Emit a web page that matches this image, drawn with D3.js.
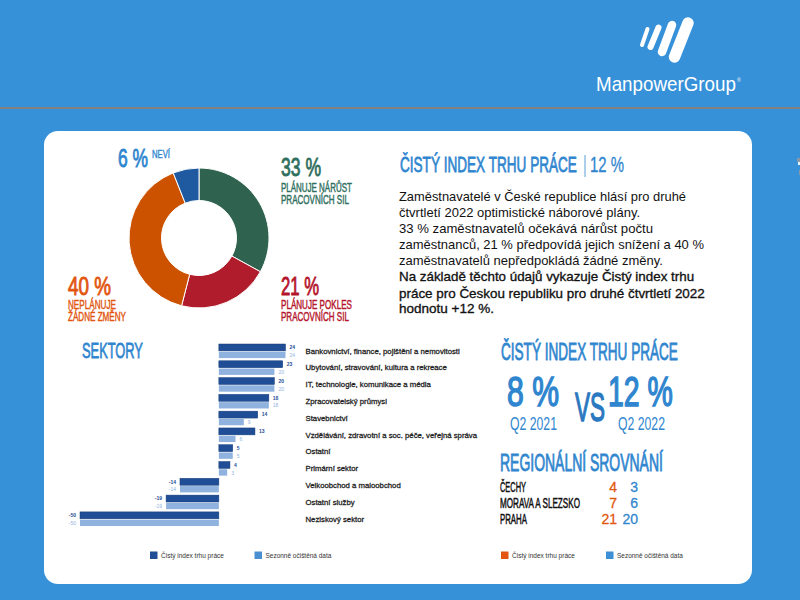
<!DOCTYPE html>
<html>
<head>
<meta charset="utf-8">
<script src="https://cdn.jsdelivr.net/npm/d3@7"></script>
<style>
  html, body { margin: 0; padding: 0; background: #3691d9; }
  svg { display: block; }
</style>
</head>
<body>
<svg id="chart" width="800" height="600"></svg>
<script>
// donut
const shareNames = ['Nárůst', 'Pokles', 'Žádné změny', 'Neví'];
const shareValues = [33, 21, 40, 6];

// sectors
const sectorNames = [
  'Bankovnictví, finance, pojištění a nemovitosti',
  'Ubytování, stravování, kultura a rekreace',
  'IT, technologie, komunikace a média',
  'Zpracovatelský průmysl',
  'Stavebnictví',
  'Vzdělávání, zdravotní a soc. péče, veřejná správa',
  'Ostatní',
  'Primární sektor',
  'Velkoobchod a maloobchod',
  'Ostatní služby',
  'Neziskový sektor'
];
const netIndex = [24, 23, 20, 18, 14, 13, 5, 4, -14, -19, -50];
const seasonal = [24, 20, 20, 18, 9, 6, 5, 3, -14, -19, -50];

// regions
const regionNames = ['ČECHY', 'MORAVA A SLEZSKO', 'PRAHA'];
const regionNet = [4, 7, 21];
const regionSeasonal = [3, 6, 20];

const paragraph = [
  'Zaměstnavatelé v České republice hlásí pro druhé',
  'čtvrtletí 2022 optimistické náborové plány.',
  '33 % zaměstnavatelů očekává nárůst počtu',
  'zaměstnanců, 21 % předpovídá jejich snížení a 40 %',
  'zaměstnavatelů nepředpokládá žádné změny.',
  'Na základě těchto údajů vykazuje Čistý index trhu',
  'práce pro Českou republiku pro druhé čtvrtletí 2022',
  'hodnotu +12 %.'
];

const BLUE = '#2f86cf';
const ORANGE = '#e2560f';
const GREEN = '#2f6f5e';
const RED = '#b5152b';
const NARROW = '"Liberation Sans Narrow", "Liberation Sans", sans-serif';
const SANS = '"Liberation Sans", Arial, sans-serif';

const svg = d3.select('#chart');

// squeeze with a transform so the box of the text really is that wide
function addText(x, y, str, size, fill, width, family = NARROW, weight = 400, bold = 0.035) {
  const t = svg.append('text')
    .attr('font-family', family)
    .attr('font-size', size)
    .attr('font-weight', weight)
    .attr('fill', fill)
    .text(str);
  if (bold) t.attr('stroke', fill).attr('stroke-width', size * bold);
  const sx = width ? width / t.node().getComputedTextLength() : 1;
  t.attr('transform', `translate(${x},${y}) scale(${sx},1)`);
  return t;
}

function drawBackground() {
  svg.append('rect').attr('width', 800).attr('height', 600).attr('fill', '#3691d9');
  svg.append('rect').attr('x', 0).attr('y', 107).attr('width', 800).attr('height', 2).attr('fill', '#85807c');
  svg.append('rect')
    .attr('x', 44).attr('y', 131)
    .attr('width', 708).attr('height', 453)
    .attr('rx', 14)
    .attr('fill', '#fff');
  // stray specks at the right edge of the source image
  svg.append('rect').attr('x', 797).attr('y', 158).attr('width', 3).attr('height', 4).attr('fill', '#8a97a6');
  svg.append('rect').attr('x', 798).attr('y', 162).attr('width', 2).attr('height', 3).attr('fill', '#e8f4fb');
  svg.append('rect').attr('x', 799).attr('y', 170).attr('width', 1).attr('height', 5).attr('fill', '#8a97a6');
}

function drawLogo() {
  const strokes = [
    [642, 45, 647.5, 29, 4],
    [650.5, 47, 658.5, 27.5, 6],
    [662, 52, 672, 25, 8.5],
    [674.5, 57, 688, 23, 11.5]
  ];
  strokes.forEach(s => {
    svg.append('line')
      .attr('x1', s[0]).attr('y1', s[1])
      .attr('x2', s[2]).attr('y2', s[3])
      .attr('stroke', '#fff')
      .attr('stroke-width', s[4])
      .attr('stroke-linecap', 'round');
  });
  addText(596, 91, 'ManpowerGroup', 20.5, '#fff', 140, SANS, 400, 0);
  addText(737, 82, '®', 5, '#fff', null, SANS, 400, 0);
}

function drawDonut() {
  const pie = d3.pie().sort(null)(shareValues);
  const arc = d3.arc().innerRadius(37.5).outerRadius(70);
  const color = d3.scaleOrdinal()
    .domain(shareNames)
    .range(['#2f6350', '#b01c2b', '#cc5200', '#1f5aa0']);

  svg.append('g')
    .attr('transform', 'translate(199,238)')
    .selectAll('path')
    .data(pie)
    .join('path')
    .attr('d', arc)
    .attr('fill', (d, i) => color(shareNames[i]))
    .attr('stroke', '#fff')
    .attr('stroke-width', 1);

  addText(118, 167, shareValues[3] + ' %', 26, BLUE, 30);
  addText(152, 158, 'NEVÍ', 11.5, BLUE, 18);

  addText(281, 176, shareValues[0] + ' %', 26, GREEN, 40);
  addText(281, 192, 'PLÁNUJE NÁRŮST', 13, GREEN, 71);
  addText(281, 204, 'PRACOVNÍCH SIL', 13, GREEN, 68);

  addText(281, 295, shareValues[1] + ' %', 26, RED, 38);
  addText(281, 309, 'PLÁNUJE POKLES', 13, RED, 71);
  addText(281, 321, 'PRACOVNÍCH SIL', 13, RED, 68);

  addText(68, 295, shareValues[2] + ' %', 26, ORANGE, 43);
  addText(68, 309, 'NEPLÁNUJE', 13, ORANGE, 48);
  addText(68, 321, 'ŽÁDNÉ ZMĚNY', 13, ORANGE, 58);
}

function drawIntro() {
  addText(400, 172, 'ČISTÝ INDEX TRHU PRÁCE', 22, BLUE, 177);
  svg.append('line')
    .attr('x1', 585).attr('x2', 585)
    .attr('y1', 155).attr('y2', 177)
    .attr('stroke', BLUE).attr('stroke-width', 0.8);
  addText(590, 172, '12 %', 22, BLUE, 34, NARROW, 400, 0.015);

  const lineY = [201, 217, 233, 249, 265, 281, 298, 313];
  const lineW = [287, 241, 254, 305, 264, 295, 306, 95];
  paragraph.forEach((line, i) => {
    addText(399, lineY[i], line, 13.2, '#111', lineW[i], SANS, 400, i >= 5 ? 0.025 : 0);
  });
}

function drawSectors() {
  addText(82, 358, 'SEKTORY', 22, BLUE, 61);

  const x = d3.scaleLinear().domain([-50, 24]).range([80, 285.5]);
  const y = d3.scaleBand().domain(sectorNames).range([344, 526]).paddingInner(0.16);
  const labelY = d3.scalePoint().domain(sectorNames).range([353.5, 521.7]);
  const darkH = y.bandwidth() * 0.49;
  const lightH = y.bandwidth() * 0.45;
  const lightOff = y.bandwidth() * 0.55;

  const rows = svg.append('g')
    .selectAll('g')
    .data(sectorNames)
    .join('g');

  rows.append('rect')
    .attr('x', (d, i) => x(Math.min(0, netIndex[i])))
    .attr('y', d => y(d))
    .attr('width', (d, i) => Math.abs(x(netIndex[i]) - x(0)))
    .attr('height', darkH)
    .attr('fill', '#1f4e96')
    .attr('stroke', '#173d7a')
    .attr('stroke-width', 0.5);

  rows.append('rect')
    .attr('x', (d, i) => x(Math.min(0, seasonal[i])))
    .attr('y', d => y(d) + lightOff)
    .attr('width', (d, i) => Math.abs(x(seasonal[i]) - x(0)))
    .attr('height', lightH)
    .attr('fill', '#8fb3de');

  rows.append('text')
    .attr('x', (d, i) => x(netIndex[i]) + (netIndex[i] < 0 ? -4 : 4))
    .attr('y', d => y(d) + darkH / 2 + 1.8)
    .attr('text-anchor', (d, i) => netIndex[i] < 0 ? 'end' : 'start')
    .attr('font-family', SANS).attr('font-size', 5).attr('font-weight', 700)
    .attr('fill', '#1f4e96')
    .text((d, i) => netIndex[i]);

  rows.append('text')
    .attr('x', (d, i) => x(seasonal[i]) + (seasonal[i] < 0 ? -4 : 4))
    .attr('y', d => y(d) + lightOff + lightH / 2 + 2.2)
    .attr('text-anchor', (d, i) => seasonal[i] < 0 ? 'end' : 'start')
    .attr('font-family', SANS).attr('font-size', 5)
    .attr('fill', '#8fb3de')
    .text((d, i) => seasonal[i]);

  rows.append('text')
    .attr('x', 305.5)
    .attr('y', d => labelY(d))
    .attr('font-family', SANS).attr('font-size', 7.75)
    .attr('fill', '#222')
    .attr('stroke', '#222').attr('stroke-width', 0.28)
    .text(d => d);
}

function drawLegend(x1, w1, color1, x2, w2, color2) {
  const items = [['Čistý index trhu práce', x1, w1, color1], ['Sezonně očištěná data', x2, w2, color2]];
  items.forEach(it => {
    svg.append('rect')
      .attr('x', it[1]).attr('y', 551.5)
      .attr('width', 7.5).attr('height', 7.5)
      .attr('fill', it[3]);
    addText(it[1] + 11, 557.8, it[0], 7, '#333', it[2], SANS, 400, 0);
  });
}

function drawCompare() {
  addText(501, 360, 'ČISTÝ INDEX TRHU PRÁCE', 23, BLUE, 177);
  addText(507, 406, '8 %', 43, BLUE, 52);
  addText(608, 406, '12 %', 43, BLUE, 65);
  addText(575, 421, 'VS', 40, '#2a78c0', 30);
  addText(510, 430, 'Q2 2021', 18, BLUE, 47, NARROW, 400, 0);
  addText(618, 430, 'Q2 2022', 18, BLUE, 47, NARROW, 400, 0);
}

function drawRegions() {
  addText(500, 471, 'REGIONÁLNÍ SROVNÁNÍ', 23, BLUE, 163);

  const y = d3.scalePoint().domain(regionNames).range([492, 524]);
  const nameW = [26, 80, 27];
  regionNames.forEach((name, i) => {
    addText(500, y(name), name, 14, '#111', nameW[i]);
    addText(617, y(name), regionNet[i], 14, ORANGE, null, NARROW, 400, 0.02).attr('text-anchor', 'end');
    addText(638, y(name), regionSeasonal[i], 14, BLUE, null, NARROW, 400, 0.02).attr('text-anchor', 'end');
  });
}

drawBackground();
drawLogo();
drawDonut();
drawIntro();
drawSectors();
drawLegend(150, 63, '#1f4e96', 254.5, 66, '#4a8fd0');
drawCompare();
drawRegions();
drawLegend(501, 63, ORANGE, 606, 66, '#3d8fd6');
</script>
</body>
</html>
